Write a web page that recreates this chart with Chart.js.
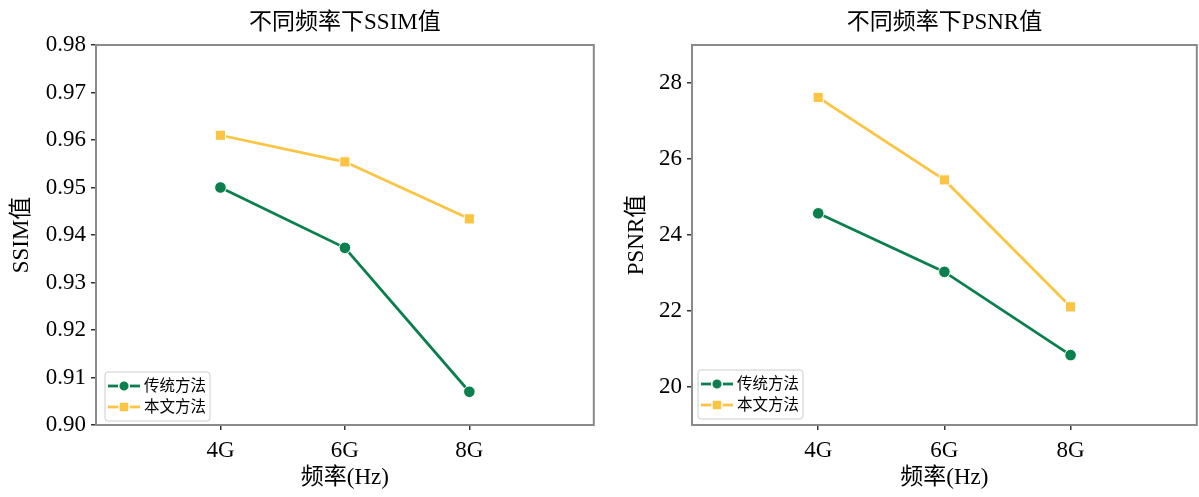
<!DOCTYPE html>
<html><head><meta charset="utf-8">
<script src="https://cdn.jsdelivr.net/npm/chart.js@4.4.1/dist/chart.umd.min.js"></script>
<style>
html,body{margin:0;padding:0;background:#fff;overflow:hidden;}
#wrap{position:relative;width:1199px;height:497px;overflow:hidden;}
canvas{position:absolute;top:0;}
#c1{left:0}
#c2{left:600px}
</style></head><body>
<div id="wrap"><canvas id="c1" width="602" height="497"></canvas><canvas id="c2" width="605" height="497"></canvas></div>
<script>
const categories = ['4G', '6G', '8G'];
const seriesNames = ['传统方法', '本文方法'];
const ssimTraditional = [0.950, 0.9373, 0.907];
const ssimProposed = [0.961, 0.9554, 0.9434];
const psnrTraditional = [24.57, 23.03, 20.84];
const psnrProposed = [27.62, 25.45, 22.11];
const ssimTicks = [0.90, 0.91, 0.92, 0.93, 0.94, 0.95, 0.96, 0.97, 0.98];
const psnrTicks = [20, 22, 24, 26, 28];

const GREEN = '#0b7f4e';
const YELLOW = '#fbc443';
const FONT = "'Liberation Serif', 'Noto Sans CJK SC', serif";
const FS = 23;

function pts(arr) { return arr.map((v, i) => ({ x: i, y: v })); }

const framePlugin = {
  id: 'frame',
  beforeDatasetsDraw(chart) {
    const { ctx, chartArea: a } = chart;
    ctx.save();
    ctx.strokeStyle = '#8a8a8a';
    ctx.lineWidth = 2;
    ctx.strokeRect(a.left, a.top, a.right - a.left, a.bottom - a.top);
    ctx.restore();
  }
};

const innerLegend = {
  id: 'innerLegend',
  afterDraw(chart, args, opts) {
    const { ctx, chartArea: a } = chart;
    const ds = chart.data.datasets;
    ctx.save();
    ctx.font = "15.5px 'Liberation Serif', 'Noto Sans CJK SC', serif";
    let tw = 0;
    ds.forEach(d => { tw = Math.max(tw, ctx.measureText(d.label).width); });
    const lineLen = 32, gap = 4, padL = 3, padR = 4;
    const w = padL + lineLen + gap + tw + padR;
    const h = 49;
    const x0 = a.left + opts.dx;
    const y0 = a.bottom - opts.dy - h;
    ctx.beginPath();
    if (ctx.roundRect) ctx.roundRect(x0, y0, w, h, 3); else ctx.rect(x0, y0, w, h);
    ctx.fillStyle = 'rgba(255,255,255,0.85)';
    ctx.fill();
    ctx.strokeStyle = '#cccccc';
    ctx.lineWidth = 1;
    ctx.stroke();
    ds.forEach((d, i) => {
      const cy = y0 + 14 + i * 21;
      const lx = x0 + padL;
      ctx.strokeStyle = d.borderColor;
      ctx.lineWidth = 2.8;
      ctx.beginPath(); ctx.moveTo(lx, cy); ctx.lineTo(lx + lineLen, cy); ctx.stroke();
      ctx.fillStyle = d.backgroundColor;
      ctx.strokeStyle = '#ffffff';
      ctx.lineWidth = 1.5;
      const mx = lx + lineLen / 2;
      ctx.beginPath();
      if (d.pointStyle === 'rect') {
        ctx.rect(mx - 5, cy - 5, 10, 10);
      } else {
        ctx.arc(mx, cy, 5.3, 0, Math.PI * 2);
      }
      ctx.fill(); ctx.stroke();
      ctx.fillStyle = '#000';
      ctx.textBaseline = 'middle';
      ctx.textAlign = 'left';
      ctx.fillText(d.label, lx + lineLen + gap, cy + 1);
    });
    ctx.restore();
  }
};

function makeChart(id, title, yLabel, trad, prop, yMin, yMax, yTicks, fmt, cfg) {
  return new Chart(document.getElementById(id), {
    type: 'line',
    data: {
      datasets: [
        { label: seriesNames[0], data: pts(trad), borderColor: GREEN, backgroundColor: GREEN,
          borderWidth: 2.8, pointStyle: 'circle', pointRadius: 5.8, pointBorderWidth: 1,
          pointBorderColor: '#ffffff', pointBackgroundColor: GREEN, tension: 0 },
        { label: seriesNames[1], data: pts(prop), borderColor: YELLOW, backgroundColor: YELLOW,
          borderWidth: 2.8, pointStyle: 'rect', pointRadius: 7.2, pointBorderWidth: 1,
          pointBorderColor: '#ffffff', pointBackgroundColor: YELLOW, tension: 0 }
      ]
    },
    plugins: [framePlugin, innerLegend],
    options: {
      responsive: false,
      animation: false,
      layout: { padding: { left: 0, right: 0, top: 0, bottom: 0 } },
      plugins: {
        legend: { display: false },
        tooltip: { enabled: false },
        title: { display: true, text: title, color: '#000', fullSize: false,
          font: { family: FONT, size: FS, weight: 'normal' }, padding: { top: 9, bottom: 8.4 } },
        innerLegend: { dx: cfg.legDx, dy: cfg.legDy }
      },
      scales: {
        x: {
          type: 'linear', min: -1, max: 3,
          afterBuildTicks(s) { s.ticks = categories.map((c, i) => ({ value: i })); },
          afterFit(s) { s.height = 72; },
          ticks: { callback: v => categories[v], color: '#000', padding: 7,
            font: { family: FONT, size: FS }, maxRotation: 0, autoSkip: false },
          grid: { drawOnChartArea: false, drawTicks: true, tickLength: 5, tickColor: '#333', lineWidth: 1.5 },
          border: { display: false },
          title: { display: true, text: '频率(Hz)', color: '#000', font: { family: FONT, size: FS },
            padding: { top: 0, bottom: 5 } }
        },
        y: {
          type: 'linear', min: yMin, max: yMax,
          afterBuildTicks(s) { s.ticks = yTicks.map(v => ({ value: v })); },
          afterFit(s) { s.width = cfg.yWidth; },
          ticks: { callback: fmt, color: '#000', padding: 5, font: { family: FONT, size: FS }, autoSkip: false },
          grid: { drawOnChartArea: false, drawTicks: true, tickLength: 5, tickColor: '#333', lineWidth: 1.5 },
          border: { display: false },
          title: { display: true, text: yLabel, color: '#000', font: { family: FONT, size: FS },
            padding: { top: cfg.yTitlePad, bottom: 0 } }
        }
      }
    }
  });
}

makeChart('c1', '不同频率下SSIM值', 'SSIM值', ssimTraditional, ssimProposed, 0.90, 0.98, ssimTicks,
  v => v.toFixed(2), { yWidth: 96, yTitlePad: 8, legDx: 9, legDy: 4 });
makeChart('c2', '不同频率下PSNR值', 'PSNR值', psnrTraditional, psnrProposed, 19, 29, psnrTicks,
  v => String(v), { yWidth: 92, yTitlePad: 23, legDx: 6, legDy: 6 });
</script>
</body></html>
